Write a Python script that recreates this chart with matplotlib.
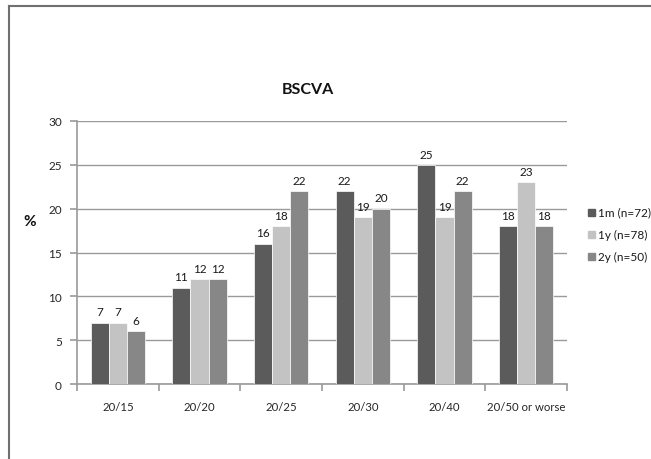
import numpy as np
import matplotlib.pyplot as plt
from matplotlib.lines import Line2D

plt.rcParams['font.family'] = ['Lato', 'DejaVu Sans']

categories = ['20/15', '20/20', '20/25', '20/30', '20/40', '20/50 or worse']
series_names = ['1m (n=72)', '1y (n=78)', '2y (n=50)']
vals_1m = [7, 11, 16, 22, 25, 18]
vals_1y = [7, 12, 18, 19, 19, 23]
vals_2y = [6, 12, 22, 20, 22, 18]
colors = ['#5b5b5b', '#c3c3c3', '#878787']

W, H = 651, 460
fig = plt.figure(figsize=(W / 100, H / 100), dpi=100)

# axes box in pixel coordinates
left, right, top, bottom = 77, 567, 122, 385
ax = fig.add_axes([left / W, 1 - bottom / H, (right - left) / W, (bottom - top) / H])

x = np.arange(len(categories))
bw = 0.222
for i, (vals, c) in enumerate(zip([vals_1m, vals_1y, vals_2y], colors)):
    pos = x + (i - 1) * bw
    ax.bar(pos, vals, width=bw, color=c, edgecolor='white', linewidth=0.5,
           label=series_names[i], zorder=3)
    for p, v in zip(pos, vals):
        ax.text(p, v + 0.6, str(v), ha='center', va='bottom', fontsize=8.5, color='#1a1a1a')

ax.set_xlim(-0.5, len(categories) - 0.5)
ax.set_ylim(0, 30)
ax.set_yticks(range(0, 31, 5))
ax.yaxis.grid(True, color='#9a9a9a', linewidth=1.0, zorder=0)
ax.set_axisbelow(True)

for s in ['top', 'right']:
    ax.spines[s].set_visible(False)
for s in ['left', 'bottom']:
    ax.spines[s].set_color('#9a9a9a')
    ax.spines[s].set_linewidth(1.2)

# category labels between boundary ticks
ax.set_xticks(np.arange(-0.5, len(categories), 1.0))
ax.set_xticklabels([])
ax.set_xticks(x, minor=True)
ax.set_xticklabels(categories, minor=True, fontsize=8.2, color='#262626')
ax.tick_params(axis='x', which='major', length=5, color='#9a9a9a', width=1.2)
ax.tick_params(axis='x', which='minor', length=0, pad=12)
ax.tick_params(axis='y', length=5, color='#9a9a9a', width=1.2, labelsize=8.5,
               labelcolor='#262626', pad=6)

fig.text(308 / W, 1 - 90 / H, 'BSCVA', ha='center', va='center', fontsize=11.5,
         fontweight='bold', color='#111111')
fig.text(30 / W, 1 - 222 / H, '%', ha='center', va='center', fontsize=11,
         fontweight='bold', color='#111111')

# legend
for i, (name, c) in enumerate(zip(series_names, colors)):
    yy = 1 - (213 + i * 22) / H
    fig.patches.append(plt.Rectangle((588 / W, yy - 3.5 / H), 7 / W, 7 / H,
                                     transform=fig.transFigure, color=c))
    fig.text(598 / W, yy, name, ha='left', va='center', fontsize=8.5, color='#1a1a1a')

# outer frame (top and left only)
fig.add_artist(Line2D([9 / W, 1], [1 - 7 / H, 1 - 7 / H], transform=fig.transFigure,
                      color='#707070', linewidth=1.5))
fig.add_artist(Line2D([9 / W, 9 / W], [0, 1 - 7 / H], transform=fig.transFigure,
                      color='#707070', linewidth=1.5))

fig.savefig('out.png', dpi=100)
